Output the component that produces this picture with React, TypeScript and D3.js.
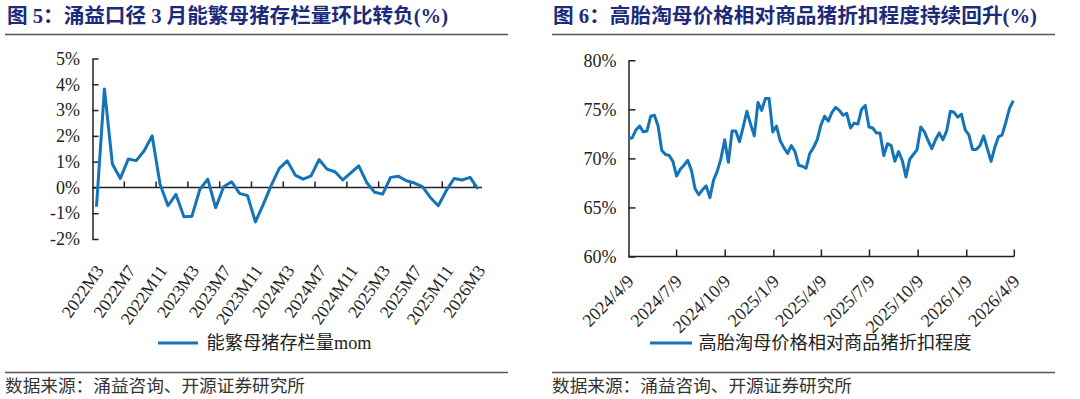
import React, { useRef, useEffect } from 'react';
import * as d3 from 'd3';

const WIDTH = 1080;
const HEIGHT = 399;

// left panel: monthly sow inventory change, 2022M3 - 2026M3
const sowMonths: string[] = [];
for (let yr = 2022; yr <= 2026; yr++) {
  for (let m = 1; m <= 12; m++) {
    if ((yr === 2022 && m < 3) || (yr === 2026 && m > 3)) continue;
    sowMonths.push(`${yr}M${m}`);
  }
}
const sowMom = [
  -0.75, 3.82, 0.91, 0.35, 1.1, 1.04, 1.42, 2.0, 0.12, -0.71,
  -0.27, -1.14, -1.12, -0.08, 0.32, -0.79, 0.03, 0.22, -0.23, -0.32,
  -1.34, -0.65, 0.09, 0.74, 1.03, 0.48, 0.32, 0.45, 1.08, 0.71,
  0.61, 0.29, 0.56, 0.84, 0.19, -0.19, -0.26, 0.39, 0.43, 0.26,
  0.17, 0.03, -0.39, -0.71, -0.13, 0.35, 0.29, 0.39, -0.06,
];
const sowTickLabels = [
  '2022M3', '2022M7', '2022M11', '2023M3', '2023M7', '2023M11', '2024M3',
  '2024M7', '2024M11', '2025M3', '2025M7', '2025M11', '2026M3',
];
const sowYTicks = [-2, -1, 0, 1, 2, 3, 4, 5];

// right panel: weekly discount of culled sows vs hogs
const discountStart = new Date(2024, 3, 9);
const discountEnd = new Date(2026, 3, 9);
const discountValues = [
  72.0, 72.1, 72.9, 73.3, 72.7, 72.8, 74.3, 74.4, 73.3, 70.8,
  70.4, 70.3, 69.7, 68.2, 68.9, 69.3, 69.8, 68.8, 66.9, 66.3,
  66.8, 67.2, 66.0, 67.8, 68.7, 70.0, 71.9, 69.6, 72.8, 72.8,
  71.7, 73.2, 74.8, 73.5, 72.3, 75.7, 74.9, 76.1, 76.1, 72.7,
  73.3, 71.8, 71.1, 70.5, 71.3, 70.7, 69.3, 69.2, 69.0, 70.5,
  71.1, 71.9, 73.4, 74.3, 73.8, 74.7, 75.2, 74.9, 74.4, 74.6,
  73.1, 73.6, 73.5, 75.0, 75.4, 73.2, 73.1, 72.6, 72.6, 70.3,
  71.5, 71.3, 69.7, 70.7, 69.8, 68.1, 69.9, 70.4, 70.9, 73.2,
  72.7, 71.8, 71.0, 71.9, 72.6, 71.9, 72.8, 74.8, 74.7, 74.2,
  74.5, 72.9, 72.4, 70.9, 70.9, 71.3, 72.3, 71.0, 69.7, 71.1,
  72.2, 72.4, 73.7, 75.1, 75.9,
];
const discountTickLabels = [
  '2024/4/9', '2024/7/9', '2024/10/9', '2025/1/9', '2025/4/9',
  '2025/7/9', '2025/10/9', '2026/1/9', '2026/4/9',
];
const discountYTicks = [60, 65, 70, 75, 80];

const FONT = "'Liberation Serif', 'Times New Roman', 'Noto Sans CJK SC', serif";
const LINE_COLOR = '#1474ba';
const TITLE_COLOR = '#1b2a7a';
const AXIS_COLOR = '#222';

const parseTick = (s: string) => {
  const [y, m, d] = s.split('/').map(Number);
  return new Date(y, m - 1, d);
};

const App: React.FC = () => {
  const svgRef = useRef<SVGSVGElement>(null);

  useEffect(() => {
    const svg = d3.select(svgRef.current);
    svg.selectAll('*').remove();

    svg.append('rect').attr('width', WIDTH).attr('height', HEIGHT).attr('fill', '#fff');

    // frame: titles, rules, source notes
    const panels = [
      { x0: 5, x1: 508, tx: 7, title: '图 5：涌益口径 3 月能繁母猪存栏量环比转负(%)', tlen: 441 },
      { x0: 552, x1: 1055, tx: 553, title: '图 6：高胎淘母价格相对商品猪折扣程度持续回升(%)', tlen: 484 },
    ];
    panels.forEach(p => {
      svg.append('text')
        .attr('x', p.tx).attr('y', 16)
        .attr('dy', '0.35em')
        .attr('font-family', FONT).attr('font-size', 20).attr('font-weight', 'bold')
        .attr('fill', TITLE_COLOR)
        .attr('textLength', p.tlen).attr('lengthAdjust', 'spacingAndGlyphs')
        .text(p.title);
      svg.append('line')
        .attr('x1', p.x0).attr('x2', p.x1).attr('y1', 34.5).attr('y2', 34.5)
        .attr('stroke', '#555').attr('stroke-width', 1.3);
      svg.append('line')
        .attr('x1', p.x0).attr('x2', p.x1).attr('y1', 372.5).attr('y2', 372.5)
        .attr('stroke', '#555').attr('stroke-width', 1.3);
      svg.append('text')
        .attr('x', p.x0).attr('y', 386)
        .attr('dy', '0.35em')
        .attr('font-family', FONT).attr('font-size', 17)
        .attr('fill', '#333')
        .attr('textLength', 300).attr('lengthAdjust', 'spacingAndGlyphs')
        .text('数据来源：涌益咨询、开源证券研究所');
    });

    // ---- left chart
    const xL = d3.scaleBand<string>().domain(sowMonths).range([92.5, 482]);
    const yL = d3.scaleLinear().domain([-2, 5]).range([239, 58.5]);
    const bw = xL.bandwidth();
    const gL = svg.append('g');

    const yAxisL = gL.append('g')
      .attr('transform', `translate(${92.5},0)`)
      .call(d3.axisLeft(yL).tickValues(sowYTicks).tickSizeInner(-6).tickSizeOuter(0)
        .tickPadding(12.5).tickFormat(d => `${d}%`));
    yAxisL.select('.domain').attr('stroke', AXIS_COLOR).attr('stroke-width', 1.5);
    yAxisL.selectAll('.tick line').attr('stroke', AXIS_COLOR).attr('stroke-width', 1.5);
    yAxisL.selectAll('.tick text')
      .attr('font-family', FONT).attr('font-size', 18).attr('fill', '#222');

    const y0 = yL(0);
    gL.append('line')
      .attr('x1', 92.5).attr('x2', 482).attr('y1', y0).attr('y2', y0)
      .attr('stroke', AXIS_COLOR).attr('stroke-width', 1.5);
    gL.selectAll('line.xtick')
      .data(sowMonths.filter((_, i) => i > 0 && i % 4 === 0))
      .enter().append('line')
      .attr('class', 'xtick')
      .attr('x1', d => xL(d)!).attr('x2', d => xL(d)!)
      .attr('y1', y0).attr('y2', y0 - 6)
      .attr('stroke', AXIS_COLOR).attr('stroke-width', 1.5);
    gL.selectAll('text.xlab')
      .data(sowTickLabels)
      .enter().append('text')
      .attr('class', 'xlab')
      .attr('transform', d => `translate(${xL(d)! + bw / 2 + 3},${267}) rotate(-55)`)
      .attr('text-anchor', 'end')
      .attr('dy', '0.35em')
      .attr('font-family', FONT).attr('font-size', 17.5).attr('fill', '#222')
      .text(d => d);

    const lineL = d3.line<number>()
      .x((_, i) => xL(sowMonths[i])! + bw / 2)
      .y(d => yL(d));
    gL.append('path')
      .datum(sowMom)
      .attr('d', lineL)
      .attr('fill', 'none')
      .attr('stroke', LINE_COLOR)
      .attr('stroke-width', 3)
      .attr('stroke-linejoin', 'round');

    gL.append('line')
      .attr('x1', 158).attr('x2', 198).attr('y1', 343).attr('y2', 343)
      .attr('stroke', LINE_COLOR).attr('stroke-width', 3);
    gL.append('text')
      .attr('x', 206.5).attr('y', 343).attr('dy', '0.35em')
      .attr('font-family', FONT).attr('font-size', 18).attr('fill', '#222')
      .attr('textLength', 165).attr('lengthAdjust', 'spacingAndGlyphs')
      .text('能繁母猪存栏量mom');

    // ---- right chart
    const xR = d3.scaleTime().domain([discountStart, discountEnd]).range([628.5, 1014.3]);
    const yR = d3.scaleLinear().domain([60, 80]).range([256.5, 60.3]);
    const gR = svg.append('g');

    const yAxisR = gR.append('g')
      .attr('transform', `translate(${628.5},0)`)
      .call(d3.axisLeft(yR).tickValues(discountYTicks).tickSizeInner(-7).tickSizeOuter(0)
        .tickPadding(12).tickFormat(d => `${d}%`));
    yAxisR.select('.domain').attr('stroke', AXIS_COLOR).attr('stroke-width', 1.5);
    yAxisR.selectAll('.tick line').attr('stroke', AXIS_COLOR).attr('stroke-width', 1.5);
    yAxisR.selectAll('.tick text')
      .attr('font-family', FONT).attr('font-size', 18).attr('fill', '#222');

    const yb = yR(60);
    gR.append('line')
      .attr('x1', 628.5).attr('x2', 1014.3).attr('y1', yb).attr('y2', yb)
      .attr('stroke', AXIS_COLOR).attr('stroke-width', 1.5);
    gR.selectAll('line.xtick')
      .data(discountTickLabels.slice(1))
      .enter().append('line')
      .attr('class', 'xtick')
      .attr('x1', d => xR(parseTick(d))).attr('x2', d => xR(parseTick(d)))
      .attr('y1', yb).attr('y2', yb - 7)
      .attr('stroke', AXIS_COLOR).attr('stroke-width', 1.5);
    gR.selectAll('text.xlab')
      .data(discountTickLabels)
      .enter().append('text')
      .attr('class', 'xlab')
      .attr('transform', d => `translate(${xR(parseTick(d)) + 2},${278}) rotate(-45)`)
      .attr('text-anchor', 'end')
      .attr('dy', '0.35em')
      .attr('font-family', FONT).attr('font-size', 18).attr('fill', '#222')
      .text(d => d);

    const lineR = d3.line<number>()
      .x((_, i) => xR(d3.timeDay.offset(discountStart, i * 7)))
      .y(d => yR(d));
    gR.append('path')
      .datum(discountValues)
      .attr('d', lineR)
      .attr('fill', 'none')
      .attr('stroke', LINE_COLOR)
      .attr('stroke-width', 3)
      .attr('stroke-linejoin', 'round');

    gR.append('line')
      .attr('x1', 650).attr('x2', 692).attr('y1', 343).attr('y2', 343)
      .attr('stroke', LINE_COLOR).attr('stroke-width', 3);
    gR.append('text')
      .attr('x', 698.5).attr('y', 343).attr('dy', '0.35em')
      .attr('font-family', FONT).attr('font-size', 18).attr('fill', '#222')
      .attr('textLength', 273).attr('lengthAdjust', 'spacingAndGlyphs')
      .text('高胎淘母价格相对商品猪折扣程度');
  }, []);

  return (
    <svg
      ref={svgRef}
      width={WIDTH}
      height={HEIGHT}
      style={{ position: 'absolute', left: 0, top: 0, display: 'block' }}
    />
  );
};

export default App;
